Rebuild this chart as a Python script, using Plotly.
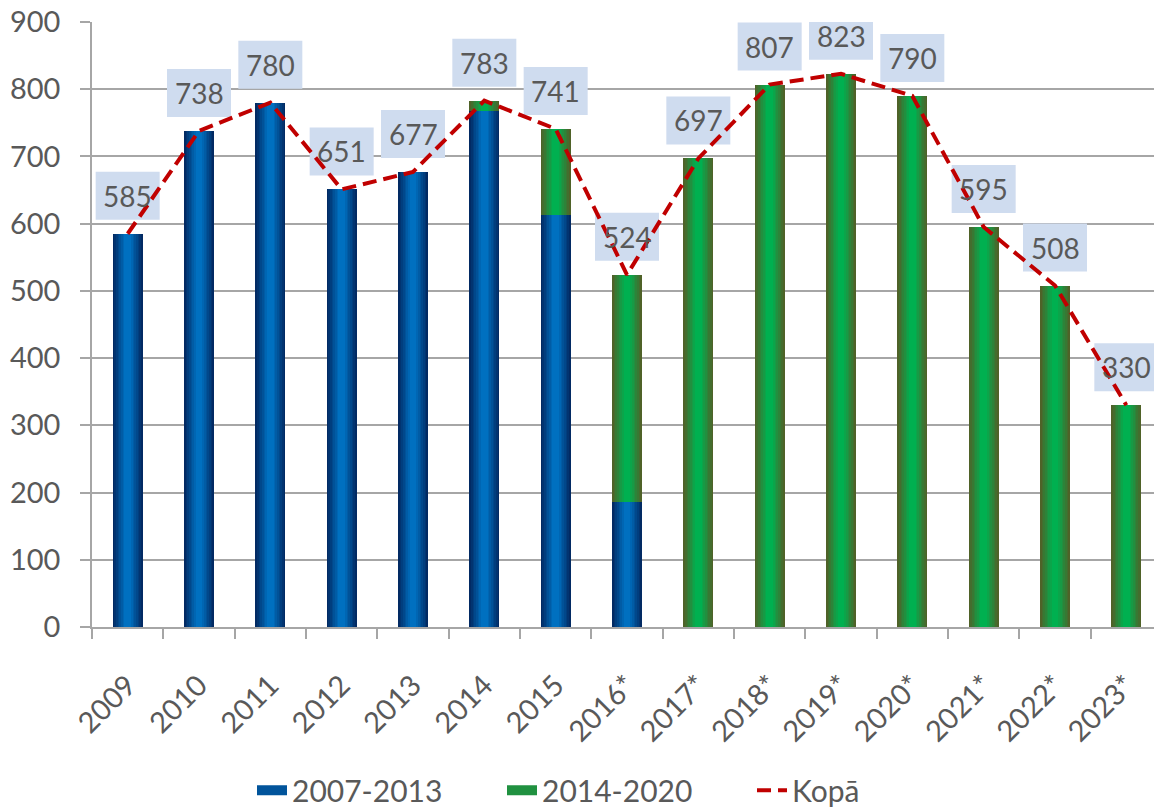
import plotly.graph_objects as go

# ---- data ----
categories = ["2009", "2010", "2011", "2012", "2013", "2014", "2015", "2016*",
              "2017*", "2018*", "2019*", "2020*", "2021*", "2022*", "2023*"]
period_2007_2013 = [585, 738, 780, 651, 677, 768, 613, 186, 0, 0, 0, 0, 0, 0, 0]
period_2014_2020 = [0, 0, 0, 0, 0, 15, 128, 338, 697, 807, 823, 790, 595, 508, 330]
total_kopa = [585, 738, 780, 651, 677, 783, 741, 524, 697, 807, 823, 790, 595, 508, 330]

series_names = ["2007-2013", "2014-2020", "Kopā"]

# ---- style ----
FONT = "Lato, Carlito, Calibri, sans-serif"
TXT = "#595959"
GRID = "#a6a6a6"
BAR_W = 0.42
N_LAYERS = 9


def hex2rgb(h):
    h = h.lstrip("#")
    return tuple(int(h[i:i + 2], 16) for i in (0, 2, 4))


def mix(c1, c2, t):
    a, b = hex2rgb(c1), hex2rgb(c2)
    return "rgb(%d,%d,%d)" % tuple(round(a[i] + (b[i] - a[i]) * t) for i in range(3))


blue_edge, blue_mid = "#022a63", "#0070c0"
green_edge, green_mid = "#4f6228", "#00b050"

fig = go.Figure()

# gradient bars: layered overlay bars, widest (darkest) first
for k in range(N_LAYERS):
    frac = 1 - k / N_LAYERS
    t = min(1.0, k / (N_LAYERS - 2))
    fig.add_trace(go.Bar(
        x=categories, y=period_2007_2013, base=[0] * len(categories),
        width=BAR_W * frac, marker=dict(color=mix(blue_edge, blue_mid, t), line=dict(width=0)),
        showlegend=False, hoverinfo="skip"))
    fig.add_trace(go.Bar(
        x=categories, y=period_2014_2020, base=period_2007_2013,
        width=BAR_W * frac, marker=dict(color=mix(green_edge, green_mid, t), line=dict(width=0)),
        showlegend=False, hoverinfo="skip"))

# legend-only entries (no visible data)
fig.add_trace(go.Scatter(x=categories[:1], y=[None], mode="lines", name=series_names[0],
                         legendrank=1, hoverinfo="skip",
                         line=dict(color=mix(blue_edge, blue_mid, 0.6), width=18)))
fig.add_trace(go.Scatter(x=categories[:1], y=[None], mode="lines", name=series_names[1],
                         legendrank=2, hoverinfo="skip",
                         line=dict(color=mix(green_edge, green_mid, 0.6), width=18)))

fig.add_trace(go.Scatter(
    x=categories, y=total_kopa, mode="lines", name=series_names[2], legendrank=3,
    line=dict(color="#c00000", width=4, dash="14px,7px")))

# data labels: box (shape) + text (annotation), positioned by category index
shapes = []
annotations = []
for i, v in enumerate(total_kopa):
    shapes.append(dict(type="rect", xref="x", yref="y", xsizemode="pixel", ysizemode="pixel",
                       xanchor=i, yanchor=v, x0=-32, x1=32, y0=14, y1=62,
                       fillcolor="#cfdcef", line=dict(width=0), layer="between"))
    annotations.append(dict(x=i, y=v, xref="x", yref="y", text=str(v), showarrow=False,
                            yshift=38, font=dict(family=FONT, size=28, color=TXT)))

# page body has an 8px default margin -> figure is 8px smaller and margins offset by 8px
fig.update_layout(
    width=1154, height=804,
    margin=dict(l=84, r=0, t=14, b=185, autoexpand=False),
    paper_bgcolor="white", plot_bgcolor="white",
    barmode="overlay", bargap=0,
    font=dict(family=FONT, size=29, color=TXT),
    shapes=shapes, annotations=annotations,
    showlegend=True,
    legend=dict(orientation="h", x=0.5, xanchor="center", y=-0.27, yanchor="middle",
                font=dict(family=FONT, size=30, color=TXT),
                entrywidth=205, entrywidthmode="pixels"),
)
fig.update_yaxes(range=[0, 900], dtick=100, showgrid=True, gridcolor=GRID, gridwidth=1.5,
                 showline=True, linecolor=GRID, linewidth=1.5,
                 ticks="outside", ticklen=10, tickcolor=GRID, tickwidth=1.5,
                 ticklabelstandoff=14, ticklabeloverflow="allow", zeroline=False,
                 tickfont=dict(family=FONT, size=29, color=TXT))
fig.update_xaxes(type="category", categoryorder="array", categoryarray=categories,
                 range=[-0.5, len(categories) - 0.5],
                 showgrid=False, showline=True, linecolor=GRID, linewidth=1.5,
                 ticks="outside", ticklen=10, tickcolor=GRID, tickwidth=1.5,
                 tickson="boundaries", tickangle=-45, ticklabelstandoff=28,
                 tickfont=dict(family=FONT, size=29, color=TXT))

fig.write_html("out.html")
